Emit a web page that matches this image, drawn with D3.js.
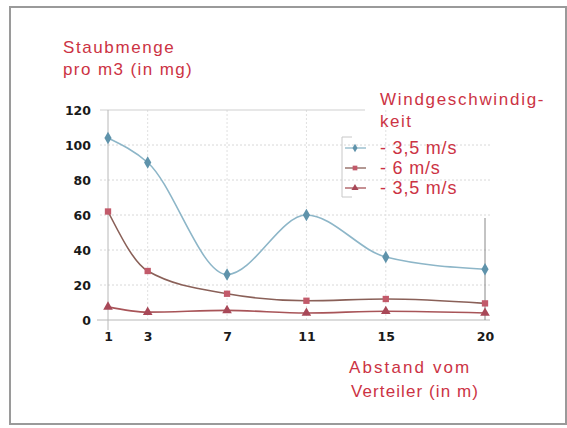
<!DOCTYPE html>
<html><head><meta charset="utf-8">
<script src="https://cdn.jsdelivr.net/npm/d3@7/dist/d3.min.js"></script>
<style>body{margin:0;background:#fff}svg{display:block}</style>
</head><body>
<script>
const xValues = [1, 3, 7, 11, 15, 20];
const seriesA = [104, 90, 26, 60, 36, 29];   // 3,5 m/s (diamonds)
const seriesB = [62, 28, 15, 11, 12, 9.5];   // 6 m/s (squares)
const seriesC = [7.5, 4.5, 5.5, 4, 5, 4];    // 3,5 m/s (triangles)
const yTicks = [0, 20, 40, 60, 80, 100, 120];
const legendLabels = ["- 3,5 m/s", "- 6 m/s", "- 3,5 m/s"];

const W = 567, H = 428;
const svg = d3.select("body").append("svg").attr("width", W).attr("height", H);
const red = "#cc3344";

svg.append("rect").attr("x", 10).attr("y", 7).attr("width", 556).attr("height", 417)
  .attr("fill", "#fff").attr("stroke", "#9a9a9a").attr("stroke-width", 2);

const x = d3.scaleLinear().domain([1, 20]).range([108, 485]);
const y = d3.scaleLinear().domain([0, 120]).range([320, 110]);

// grid
const g = svg.append("g");
g.selectAll(".hg").data(yTicks.filter(d => d > 0 && d < 120)).join("line")
  .attr("x1", 100).attr("x2", 490).attr("y1", d => y(d)).attr("y2", d => y(d))
  .attr("stroke", "#d8d8d8").attr("stroke-dasharray", "2,2");
g.selectAll(".vg").data(xValues.slice(1, -1)).join("line")
  .attr("x1", d => x(d)).attr("x2", d => x(d)).attr("y1", 110).attr("y2", 320)
  .attr("stroke", "#e0e0e0").attr("stroke-dasharray", "2,2");
g.append("line").attr("x1", 100).attr("x2", 365).attr("y1", y(120)).attr("y2", y(120))
  .attr("stroke", "#cfcfcf");
g.append("line").attr("x1", 97).attr("x2", 490).attr("y1", y(0)).attr("y2", y(0))
  .attr("stroke", "#b8b8b8");
g.append("line").attr("x1", 108).attr("x2", 108).attr("y1", 110).attr("y2", 330)
  .attr("stroke", "#b8b8b8");
g.append("line").attr("x1", x(20)).attr("x2", x(20)).attr("y1", 218).attr("y2", 320)
  .attr("stroke", "#888");

// axis labels
const tickFont = s => s.attr("font-family", "DejaVu Sans, Verdana, sans-serif")
  .attr("font-weight", "bold").attr("font-size", 12.5).attr("fill", "#1a1a1a");
const yAxis = d3.axisLeft(y).tickValues(yTicks).tickSize(0).tickPadding(0);
svg.append("g").attr("transform", "translate(91,0)").call(yAxis)
  .call(s => s.select(".domain").remove())
  .selectAll("text").call(tickFont);
const xAxis = d3.axisBottom(x).tickValues(xValues).tickSize(0).tickPadding(0);
svg.append("g").attr("transform", "translate(0,332)").call(xAxis)
  .call(s => s.select(".domain").remove())
  .selectAll("text").call(tickFont);

// lines
const line = d3.line().x((d, i) => x(xValues[i])).y(d => y(d)).curve(d3.curveMonotoneX);
const series = [
  {data: seriesA, line: "#8db6c8", mark: "#5f93ab", shape: d3.symbolDiamond, size: 45},
  {data: seriesB, line: "#8a6058", mark: "#c25a6a", shape: d3.symbolSquare, size: 40},
  {data: seriesC, line: "#a85458", mark: "#a84858", shape: d3.symbolTriangle, size: 40}
];
series.forEach(s => {
  svg.append("path").attr("d", line(s.data)).attr("fill", "none")
    .attr("stroke", s.line).attr("stroke-width", 1.6);
  svg.selectAll(null).data(s.data).join("path")
    .attr("transform", (d, i) => `translate(${x(xValues[i])},${y(d)})`)
    .attr("d", d3.symbol().type(s.shape).size(s.size)).attr("fill", s.mark);
});

const style = (t, size, ls) => t.attr("font-family", "Liberation Sans, Arial, sans-serif")
  .attr("font-size", size).attr("letter-spacing", ls).attr("fill", red);

// legend
const lg = svg.append("g");
lg.append("path").attr("d", "M352,137 H342 V197 H352").attr("fill", "none").attr("stroke", "#c8c8c8");
series.forEach((s, i) => {
  const ly = 148 + i * 20;
  lg.append("line").attr("x1", 345).attr("x2", 366).attr("y1", ly).attr("y2", ly)
    .attr("stroke", s.line).attr("stroke-width", 1.3);
  lg.append("path").attr("transform", `translate(355,${ly})`)
    .attr("d", d3.symbol().type(s.shape).size(22)).attr("fill", s.mark);
  style(lg.append("text").attr("x", 380).attr("y", ly + 6).text(legendLabels[i]), 18, 0.8);
});
const txt = (t, xx, yy, size, ls) => style(svg.append("text").attr("x", xx).attr("y", yy).text(t), size, ls);
txt("Windgeschwindig-", 380, 105, 17, 1.7);
txt("keit", 380, 127, 17, 1.5);
txt("Staubmenge", 63, 53, 17, 1.6);
txt("pro m3 (in mg)", 63, 75, 17, 1.4);
txt("Abstand vom", 349, 373, 17, 2.1);
txt("Verteiler (in m)", 351, 397, 17, 1.1);
</script>
</body></html>
